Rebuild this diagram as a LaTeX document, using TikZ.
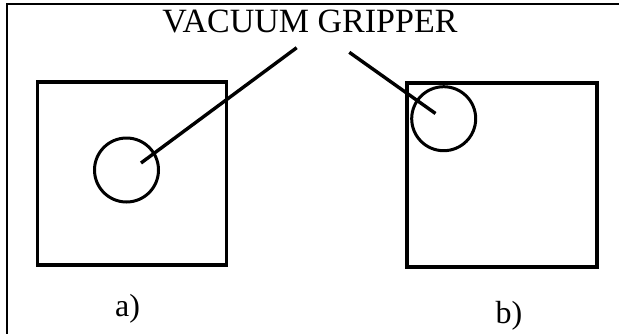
\documentclass[tikz,border=0pt]{standalone}
\usepackage{fontspec}
\setmainfont{Liberation Serif}
\begin{document}
\begin{tikzpicture}[x=1pt,y=-1pt,
  box/.style={draw,line width=3.2pt,inner sep=0pt,rectangle},
  cup/.style={draw,line width=3pt,inner sep=0pt,circle,minimum size=64pt},
  lead/.style={line width=3.4pt},
  lbl/.style={inner sep=0pt,anchor=base}]
\useasboundingbox (0,0) rectangle (619,333);
\coordinate (fbl) at (7,340);
\coordinate (ftl) at (7,4);
\coordinate (ftr) at (625,4);
\draw[line width=2.8pt] (fbl) -- (ftl) -- (ftr);
\node[box,minimum width=189pt,minimum height=183pt] (sqa) at (132,173.5) {};
\node[box,minimum width=190pt,minimum height=184pt] (sqb) at (502,175) {};
\node[cup] (cupa) at (126.5,170) {};
\node[cup] (cupb) at (443.7,118.7) {};
\node[lbl,font=\fontsize{34}{40}\selectfont] (title) at (310,32) {VACUUM GRIPPER};
\coordinate (enda) at (141,163);
\coordinate (topa) at (296.7,47.7);
\coordinate (endb) at (435.5,113.5);
\coordinate (topb) at (349.3,52.3);
\draw[lead] (enda) -- (topa);
\draw[lead] (endb) -- (topb);
\node[lbl,font=\fontsize{32}{38}\selectfont] (la) at (127.5,316) {a)};
\node[lbl,font=\fontsize{32}{38}\selectfont] (lb) at (509,323) {b)};
\end{tikzpicture}
\end{document}
